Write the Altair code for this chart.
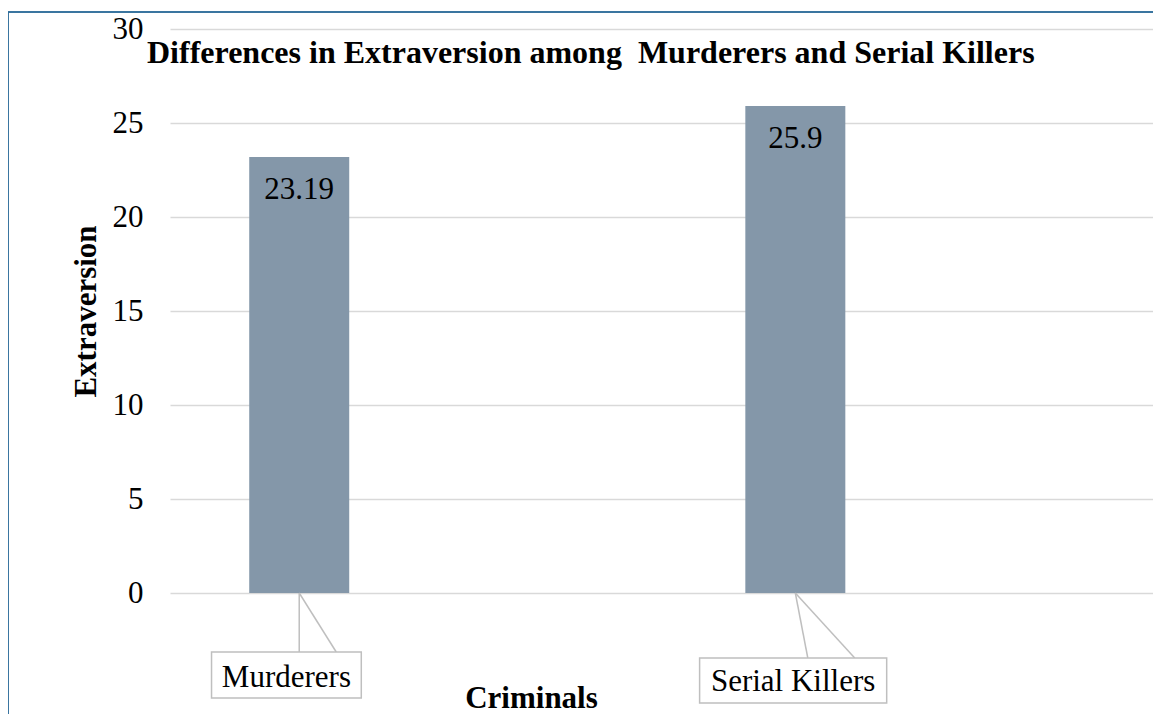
import altair as alt
import pandas as pd

# ---- data ----
categories = ["Murderers", "Serial Killers"]
positions = [0, 1]
values = [23.19, 25.9]
y_ticks = [0, 5, 10, 15, 20, 25, 30]
title_text = ["Differences in Extraversion among \u00a0Murderers and Serial Killers"]

# ---- layout constants (pixels) ----
W, H = 983, 564
STEP = 501.2           # px between the two bar centres
X0 = 125.5             # px of first bar centre from plot left
PXY = H / 30.0         # px per y unit
FONT = "Liberation Serif"
FS = 31

# callout geometry in px relative to bar centre / baseline
callout_px = {
    "Murderers": dict(left=-88.6, right=62.7, top=59, bottom=105, p1=0.0, p2=37.4, text_base=94),
    "Serial Killers": dict(left=-96.7, right=92.3, top=65, bottom=110, p1=12.6, p2=60.0, text_base=98),
}

x_domain = [-X0 / STEP, (W - X0) / STEP]

df = pd.DataFrame({"category": categories, "pos": positions, "value": values})

box_rows, ptr_rows, lab_rows = [], [], []
for c, p in zip(categories, positions):
    g = callout_px[c]
    box_rows.append(dict(category=c, x=p + g["left"] / STEP, x2=p + g["right"] / STEP,
                         y=-g["top"] / PXY, y2=-g["bottom"] / PXY))
    for k in ("p1", "p2"):
        ptr_rows.append(dict(category=c, x=p, y=0, x2=p + g[k] / STEP, y2=-g["top"] / PXY))
    lab_rows.append(dict(category=c, x=p + (g["left"] + g["right"]) / 2 / STEP, y=-g["text_base"] / PXY))

boxes = pd.DataFrame(box_rows)
ptrs = pd.DataFrame(ptr_rows)
labs = pd.DataFrame(lab_rows)
titles = pd.DataFrame({"t": title_text})

xs = alt.Scale(domain=x_domain, nice=False, zero=False)
ys = alt.Scale(domain=[0, 30], nice=False)

base = alt.Chart(df)

bars = base.mark_bar(size=100, color="#8497A9").encode(
    x=alt.X("pos:Q", scale=xs,
            axis=alt.Axis(labels=False, ticks=False, domain=False, grid=False,
                          title="Criminals", titleFont=FONT, titleFontSize=FS,
                          titleFontWeight="bold", titleColor="black",
                          titleX=361, titleY=114, titleAnchor="middle",
                          titleBaseline="alphabetic", titleAlign="center")),
    y=alt.Y("value:Q", scale=ys,
            axis=alt.Axis(values=y_ticks, grid=True, gridColor="#D9D9D9", gridWidth=1.5,
                          ticks=False, domain=False, labelFont=FONT, labelFontSize=FS,
                          labelColor="black", labelPadding=27,
                          title="Extraversion", titleFont=FONT, titleFontSize=FS,
                          titleFontWeight="bold", titleColor="black", titleAngle=270,
                          titleX=-84, titleY=282, titleAlign="center",
                          titleBaseline="middle")),
)

value_text = base.mark_text(font=FONT, fontSize=FS, color="black",
                            baseline="alphabetic", dy=42).encode(
    x=alt.X("pos:Q", scale=xs), y=alt.Y("value:Q", scale=ys), text=alt.Text("value:Q"))

pointer = alt.Chart(ptrs).mark_rule(color="#BFBFBF", strokeWidth=1.5, clip=False).encode(
    x=alt.X("x:Q", scale=xs), y=alt.Y("y:Q", scale=ys), x2="x2:Q", y2="y2:Q")

box = alt.Chart(boxes).mark_rect(fill="white", stroke="#BFBFBF", strokeWidth=1.5,
                                 clip=False).encode(
    x=alt.X("x:Q", scale=xs), x2="x2:Q", y=alt.Y("y:Q", scale=ys), y2="y2:Q")

cat_text = alt.Chart(labs).mark_text(font=FONT, fontSize=FS, color="black",
                                     baseline="alphabetic", clip=False).encode(
    x=alt.X("x:Q", scale=xs), y=alt.Y("y:Q", scale=ys), text="category:N")

title_mark = alt.Chart(titles).mark_text(font=FONT, fontSize=32, fontWeight="bold",
                                         color="black", align="left",
                                         baseline="alphabetic", clip=False).encode(
    x=alt.value(-23), y=alt.value(34), text="t:N")

border = alt.Chart(df).mark_rect(fill=None, stroke="#2E6C9B", strokeWidth=1.5,
                                 clip=False).encode(
    x=alt.value(-162), y=alt.value(-17), x2=alt.value(W + 40), y2=alt.value(H + 200))

chart = alt.layer(border, bars, value_text, pointer, box, cat_text, title_mark).properties(
    width=W, height=H,
    background="white",
    autosize=alt.AutoSizeParams(type="none"),
    padding={"left": 162, "top": 21, "right": 0, "bottom": 121},
).configure_view(stroke=None)

chart.save("out.html", embed_options={"renderer": "svg", "actions": False})
